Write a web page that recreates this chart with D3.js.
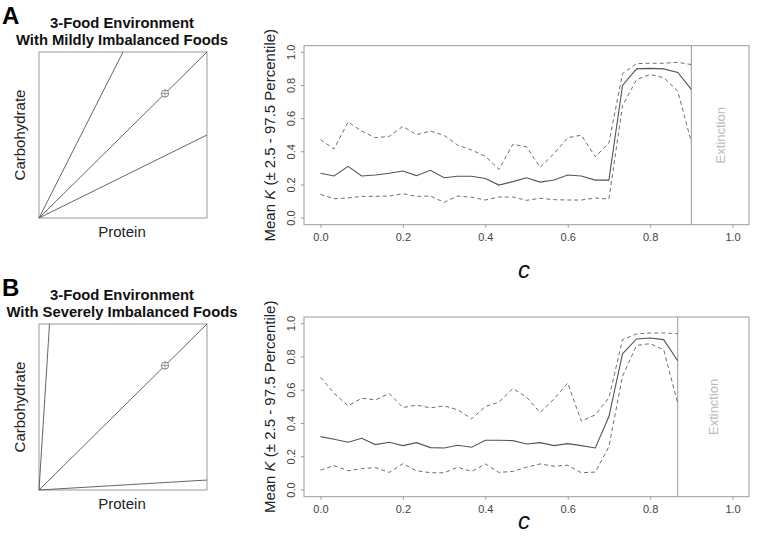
<!DOCTYPE html>
<html><head><meta charset="utf-8">
<script src="https://cdn.jsdelivr.net/npm/d3@7"></script>
<style>body{margin:0;background:#fff}svg{display:block}text{font-family:"Liberation Sans",Arial,sans-serif}</style>
</head><body>
<svg id="chart" width="766" height="537"></svg>
<script>
// ---------- data ----------
const cValuesA = [0,0.033,0.067,0.1,0.133,0.167,0.2,0.233,0.267,0.3,0.333,0.367,0.4,0.433,0.467,0.5,0.533,0.567,0.6,0.633,0.667,0.7,0.733,0.767,0.8,0.833,0.867,0.9];
const meanA  = [0.270,0.254,0.312,0.254,0.260,0.270,0.284,0.256,0.288,0.243,0.252,0.252,0.239,0.199,0.220,0.243,0.217,0.230,0.260,0.254,0.229,0.229,0.800,0.900,0.903,0.900,0.879,0.777];
const upperA = [0.473,0.417,0.580,0.525,0.485,0.493,0.553,0.503,0.525,0.499,0.440,0.410,0.374,0.294,0.445,0.430,0.306,0.390,0.485,0.500,0.370,0.453,0.871,0.932,0.934,0.934,0.940,0.926];
const lowerA = [0.143,0.117,0.121,0.131,0.131,0.133,0.147,0.131,0.133,0.095,0.133,0.125,0.109,0.127,0.127,0.107,0.119,0.111,0.109,0.109,0.121,0.115,0.678,0.835,0.867,0.847,0.767,0.459];
const extinctionA = 0.9;

const cValuesB = [0,0.033,0.067,0.1,0.133,0.167,0.2,0.233,0.267,0.3,0.333,0.367,0.4,0.433,0.467,0.5,0.533,0.567,0.6,0.633,0.667,0.7,0.733,0.767,0.8,0.833,0.867];
const meanB  = [0.321,0.305,0.287,0.311,0.273,0.287,0.267,0.285,0.255,0.253,0.269,0.257,0.299,0.299,0.297,0.277,0.285,0.267,0.279,0.267,0.253,0.442,0.819,0.908,0.914,0.904,0.777];
const upperB = [0.677,0.582,0.506,0.552,0.542,0.580,0.496,0.510,0.494,0.506,0.482,0.428,0.502,0.528,0.610,0.558,0.466,0.548,0.643,0.414,0.452,0.554,0.904,0.938,0.944,0.944,0.940];
const lowerB = [0.120,0.147,0.116,0.129,0.135,0.106,0.159,0.116,0.104,0.104,0.137,0.112,0.157,0.106,0.112,0.137,0.157,0.143,0.149,0.104,0.108,0.261,0.683,0.869,0.880,0.843,0.522];
const extinctionB = 0.867;

const xTicks = [0,0.2,0.4,0.6,0.8,1.0];
const yTicks = [0,0.2,0.4,0.6,0.8,1.0];

const foodRatiosA = [2.0, 1.0, 0.5];     // carbohydrate : protein
const foodRatiosB = [16.0, 1.0, 0.06];
const targetPoint = [0.75, 0.75];

const titlesA = ["3-Food Environment","With Mildly Imbalanced Foods"];
const titlesB = ["3-Food Environment","With Severely Imbalanced Foods"];

// ---------- drawing ----------
const svg = d3.select("#chart");
const boxCol = "#9a9a9a", lineCol = "#555", dashCol = "#6e6e6e";

function leftPanel(top, letter, titles, ratios){
  const g = svg.append("g");
  const x = d3.scaleLinear().domain([0,1]).range([39,207]);
  const y = d3.scaleLinear().domain([0,1]).range([top+166, top]);
  g.append("text").attr("x",2).attr("y",top-28.5).attr("font-size",24).attr("font-weight","bold").text(letter);
  g.append("text").attr("x",122).attr("y",top-24.5).attr("text-anchor","middle").attr("font-size",14.8).attr("font-weight","bold").attr("fill","#111").text(titles[0]);
  g.append("text").attr("x",122).attr("y",top-7.5).attr("text-anchor","middle").attr("font-size",14.8).attr("font-weight","bold").attr("fill","#111").text(titles[1]);
  g.append("rect").attr("x",x(0)).attr("y",y(1)).attr("width",x(1)-x(0)).attr("height",y(0)-y(1))
    .attr("fill","none").attr("stroke",boxCol).attr("stroke-width",1);
  ratios.forEach(r=>{
    const ex = r>1 ? 1/r : 1, ey = r>1 ? 1 : r;
    g.append("line").attr("x1",x(0)).attr("y1",y(0)).attr("x2",x(ex)).attr("y2",y(ey))
      .attr("stroke",lineCol).attr("stroke-width",0.9);
  });
  const cx = x(targetPoint[0]), cy = y(targetPoint[1]);
  g.append("circle").attr("cx",cx).attr("cy",cy).attr("r",3.6).attr("fill","#fff").attr("stroke","#666").attr("stroke-width",0.8);
  g.append("line").attr("x1",cx-3.6).attr("x2",cx+3.6).attr("y1",cy).attr("y2",cy).attr("stroke","#666").attr("stroke-width",0.6);
  g.append("line").attr("x1",cx).attr("x2",cx).attr("y1",cy-3.6).attr("y2",cy+3.6).attr("stroke","#666").attr("stroke-width",0.6);
  g.append("text").attr("transform",`translate(25,${(y(0)+y(1))/2}) rotate(-90)`).attr("text-anchor","middle")
    .attr("font-size",15).attr("fill","#222").text("Carbohydrate");
  g.append("text").attr("x",122).attr("y",y(0)+18.5).attr("text-anchor","middle").attr("font-size",15).attr("fill","#222").text("Protein");
}

function rightPanel(top, bottom, cValues, mean, upper, lower, ext, cBaseline){
  const g = svg.append("g");
  const x = d3.scaleLinear().domain([-0.04,1.04]).range([304,749]);
  const y = d3.scaleLinear().domain([-0.04,1.04]).range([bottom, top]);
  g.append("rect").attr("x",304).attr("y",top).attr("width",445).attr("height",bottom-top)
    .attr("fill","none").attr("stroke",boxCol).attr("stroke-width",1);
  // x axis
  const xa = g.append("g").attr("transform",`translate(0,${bottom})`)
    .call(d3.axisBottom(x).tickValues(xTicks).tickSize(3).tickSizeOuter(0).tickFormat(d3.format(".1f")));
  xa.select(".domain").remove();
  xa.selectAll("line").attr("stroke",boxCol);
  xa.selectAll("text").attr("font-size",11).attr("fill","#444").attr("dy","0.9em")
    .style("font-family","'Liberation Sans',Arial,sans-serif");
  // y axis
  const ya = g.append("g").attr("transform","translate(304,0)")
    .call(d3.axisLeft(y).tickValues(yTicks).tickSize(3).tickSizeOuter(0).tickFormat(d3.format(".1f")));
  ya.select(".domain").remove();
  ya.selectAll("line").attr("stroke",boxCol);
  ya.selectAll("text").attr("font-size",11).attr("fill","#444")
    .attr("x",null).attr("dy",null).attr("text-anchor","middle")
    .attr("transform",d=>`translate(-9,${y(d)}) rotate(-90)`).attr("y",0)
    .style("font-family","'Liberation Sans',Arial,sans-serif");
  ya.selectAll(".tick").attr("transform",null);
  ya.selectAll(".tick line").attr("transform",d=>`translate(0,${y(d)})`);
  // extinction
  g.append("line").attr("x1",x(ext)).attr("x2",x(ext)).attr("y1",top).attr("y2",bottom)
    .attr("stroke",boxCol).attr("stroke-width",1);
  g.append("text").attr("transform",`translate(${(x(ext)+749)/2+5},${(top+bottom)/2}) rotate(-90)`)
    .attr("text-anchor","middle").attr("font-size",13).attr("fill","#bdbdbd").text("Extinction");
  // series
  const pts = arr => arr.map((v,i)=>[cValues[i], v]);
  const line = d3.line().x(d=>x(d[0])).y(d=>y(d[1]));
  g.append("path").attr("d",line(pts(upper))).attr("fill","none").attr("stroke",dashCol).attr("stroke-width",1).attr("stroke-dasharray","4,3");
  g.append("path").attr("d",line(pts(lower))).attr("fill","none").attr("stroke",dashCol).attr("stroke-width",1).attr("stroke-dasharray","4,3");
  g.append("path").attr("d",line(pts(mean))).attr("fill","none").attr("stroke",lineCol).attr("stroke-width",1.1);
  // axis titles
  const yt = g.append("text").attr("transform",`translate(275,${(top+bottom)/2}) rotate(-90)`)
    .attr("text-anchor","middle").attr("font-size",15).attr("fill","#222");
  yt.append("tspan").text("Mean ");
  yt.append("tspan").attr("font-style","italic").text("K");
  yt.append("tspan").text(" (\u00B1 2.5 - 97.5 Percentile)");
  g.append("text").attr("x",524).attr("y",cBaseline).attr("text-anchor","middle")
    .attr("font-size",24).attr("font-style","italic").attr("fill","#111").text("c");
}

leftPanel(52, "A", titlesA, foodRatiosA);
leftPanel(324, "B", titlesB, foodRatiosB);
rightPanel(45.7, 224.7, cValuesA, meanA, upperA, lowerA, extinctionA, 278);
rightPanel(317, 496.7, cValuesB, meanB, upperB, lowerB, extinctionB, 529);
</script>
</body></html>
